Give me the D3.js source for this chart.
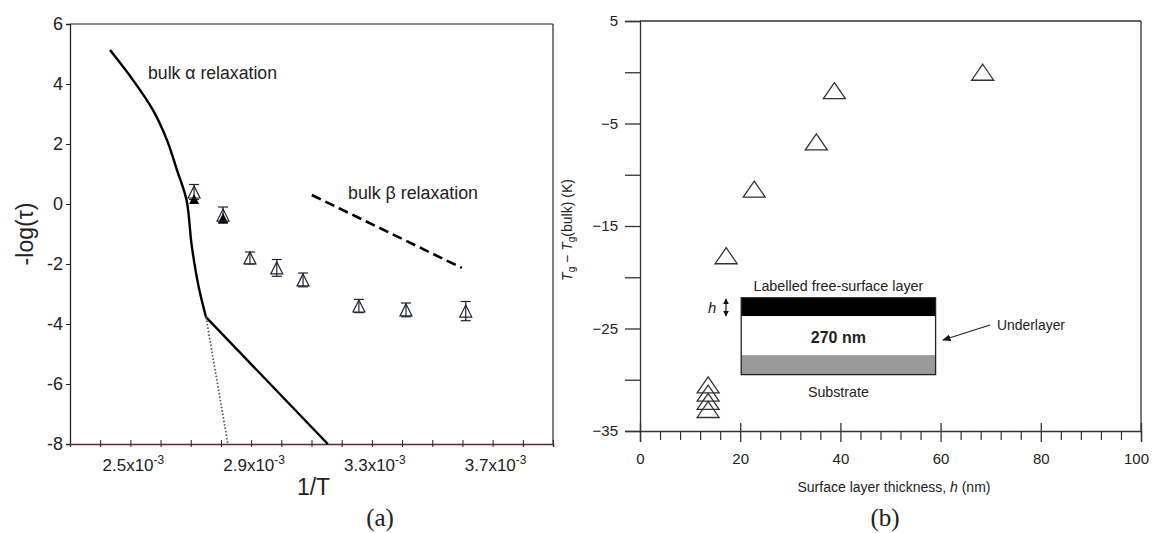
<!DOCTYPE html>
<html><head><meta charset="utf-8">
<script src="https://cdn.jsdelivr.net/npm/d3@7/dist/d3.min.js"></script>
<style>
body{margin:0;background:#fff;}
text{font-family:"Liberation Sans",Arial,sans-serif;fill:#222;}
</style></head>
<body>
<svg id="c" width="1152" height="533"></svg>
<script>
// ---------- Panel (a) data ----------
const xTicksA = [2.4,2.5,2.6,2.7,2.8,2.9,3.0,3.1,3.2,3.3,3.4,3.5,3.6,3.7,3.8,3.9]; // ×10^-3
const xLabelsA = [2.5,2.9,3.3,3.7];
const yTicksA = [6,4,2,0,-2,-4,-6,-8];
const invT = [2.711,2.807,2.896,2.985,3.072,3.257,3.413,3.611];
const logTauOpen = [0.4,-0.37,-1.8,-2.13,-2.53,-3.4,-3.53,-3.57];
const logTauErr = [0.25,0.27,0.2,0.28,0.23,0.22,0.23,0.32];
const invTFilled = [2.711,2.807];
const logTauFilled = [0.17,-0.47];
const alphaX = [2.4325,2.5087,2.5749,2.6213,2.6544,2.686,2.703,2.725,2.7505];
const alphaY = [5.13,4.13,3.13,2.13,1.13,0.13,-1.37,-2.70,-3.77];
const lowX = [2.7505,3.154];
const lowY = [-3.77,-8];
const dotX = [2.7505,2.823];
const dotY = [-3.77,-8];
const betaX = [3.101,3.598];
const betaY = [0.3,-2.13];

// ---------- Panel (b) data ----------
const thickness = [68.4,38.8,35.2,22.8,17.2,13.6,13.6,13.6,13.6];
const dTg = [0.0,-1.8,-6.8,-11.4,-17.9,-30.5,-31.3,-32.1,-32.9];
const xMajorB = [0,20,40,60,80,100];
const yTicksB = [5,0,-5,-10,-15,-20,-25,-30,-35];
const yLabelsB = [5,-5,-15,-25,-35];
// inset layers (data units of panel b)
const insetX = [20.2,59];
const insetLayerTop = [-22.0,-23.8,-27.6];
const insetLayerBottom = [-23.8,-27.6,-29.5];
const insetLayerFill = ["#000","#fff","#9a9a9a"];

const svg = d3.select("#c");
function fitW(sel,w){ sel.attr("textLength",w).attr("lengthAdjust","spacingAndGlyphs"); return sel; }

// ================= Panel (a) =================
const xA = d3.scaleLinear().domain([2.3,3.9]).range([70,553]);
const yA = d3.scaleLinear().domain([-8,6]).range([444,24]);
const axisColA = "#2a2222";

svg.append("line").attr("x1",xA(2.3)).attr("x2",xA(3.9)).attr("y1",yA(6)).attr("y2",yA(6)).attr("stroke",axisColA).attr("stroke-width",1.2);
svg.append("line").attr("x1",xA(3.9)).attr("x2",xA(3.9)).attr("y1",yA(6)).attr("y2",yA(-8)).attr("stroke",axisColA).attr("stroke-width",1.2);

const gyA = svg.append("g").attr("transform",`translate(${xA(2.3)},0)`)
  .call(d3.axisLeft(yA).tickValues(yTicksA).tickSize(4).tickPadding(3).tickFormat(d=>String(d)));
gyA.select(".domain").attr("stroke",axisColA).attr("stroke-width",1.3);
gyA.selectAll(".tick line").attr("stroke",axisColA);
gyA.selectAll(".tick text").attr("font-size",18).attr("fill","#222")
  .style("font-family",'"Liberation Sans",Arial,sans-serif');

const gxA = svg.append("g").attr("transform",`translate(0,${yA(-8)})`)
  .call(d3.axisBottom(xA).tickValues(xTicksA).tickSize(3).tickFormat(""));
gxA.select(".domain").attr("stroke","#5a2e28").attr("stroke-width",1.3);
gxA.selectAll(".tick line").attr("y1",-4).attr("y2",3).attr("stroke",axisColA);
svg.selectAll("text.xla").data(xLabelsA).join("text").attr("class","xla")
  .attr("x",d=>xA(d)+3).attr("y",471).attr("text-anchor","middle").attr("font-size",17)
  .each(function(d){
    const t=d3.select(this);
    t.append("tspan").text(d.toFixed(1)+"x10");
    t.append("tspan").attr("dy",-7).attr("font-size",12).text("-3");
  });

svg.append("text").attr("x",xA(3.1)+2).attr("y",495).attr("text-anchor","middle").attr("font-size",23).text("1/T");
svg.append("text").attr("transform",`translate(33,${yA(-1)}) rotate(-90)`).attr("text-anchor","middle").attr("font-size",23).text("-log(τ)");

// curves
const mk = d3.line().x(d=>xA(d[0])).y(d=>yA(d[1]));
svg.append("path").datum(d3.zip(alphaX,alphaY)).attr("d",d3.line().x(d=>xA(d[0])).y(d=>yA(d[1])).curve(d3.curveCatmullRom.alpha(0.5)))
  .attr("fill","none").attr("stroke","#000").attr("stroke-width",2.4);
svg.append("path").datum(d3.zip(lowX,lowY)).attr("d",mk)
  .attr("fill","none").attr("stroke","#000").attr("stroke-width",2.4);
svg.append("path").datum(d3.zip(dotX,dotY)).attr("d",mk)
  .attr("fill","none").attr("stroke","#4a5060").attr("stroke-width",1.7).attr("stroke-dasharray","1.5,2");
svg.append("path").datum(d3.zip(betaX,betaY)).attr("d",mk)
  .attr("fill","none").attr("stroke","#000").attr("stroke-width",2.6).attr("stroke-dasharray","10,5");

fitW(svg.append("text").attr("x",148).attr("y",79).attr("font-size",18).text("bulk α relaxation"),129);
fitW(svg.append("text").attr("x",348).attr("y",199).attr("font-size",18).text("bulk β relaxation"),130);

const ptsA = invT.map((x,i)=>({x,y:logTauOpen[i],e:logTauErr[i]}));
const gp = svg.append("g").attr("stroke","#1e2430").attr("fill","none").attr("stroke-width",1.2);
ptsA.forEach(p=>{
  const cx=xA(p.x), y1=yA(p.y+p.e), y2=yA(p.y-p.e);
  gp.append("line").attr("x1",cx).attr("x2",cx).attr("y1",y1).attr("y2",y2);
  gp.append("line").attr("x1",cx-5).attr("x2",cx+5).attr("y1",y1).attr("y2",y1);
  gp.append("line").attr("x1",cx-5).attr("x2",cx+5).attr("y1",y2).attr("y2",y2);
});
const triA = (w,h)=>`M0,${-h/2}L${w/2},${h/2}L${-w/2},${h/2}Z`;
svg.selectAll("path.fa").data(d3.zip(invTFilled,logTauFilled)).join("path").attr("class","fa")
  .attr("transform",d=>`translate(${xA(d[0])},${yA(d[1])})`).attr("d",triA(10,10)).attr("fill","#000");
svg.selectAll("path.oa").data(ptsA).join("path").attr("class","oa")
  .attr("transform",d=>`translate(${xA(d.x)},${yA(d.y)})`).attr("d",triA(12,12))
  .attr("fill","none").attr("stroke","#1e2430").attr("stroke-width",1.2);

svg.append("text").attr("x",380).attr("y",526).attr("text-anchor","middle").attr("font-size",25)
  .style("font-family",'"Liberation Serif","Times New Roman",serif').text("(a)");

// ================= Panel (b) =================
const xB = d3.scaleLinear().domain([0,100]).range([640,1141]);
const yB = d3.scaleLinear().domain([-35,5]).range([431,21]);
const colB = "#333";

svg.append("line").attr("x1",xB(0)).attr("x2",xB(100)).attr("y1",yB(5)).attr("y2",yB(5)).attr("stroke",colB).attr("stroke-width",1.3);
svg.append("line").attr("x1",xB(100)).attr("x2",xB(100)).attr("y1",yB(5)).attr("y2",yB(-35)).attr("stroke",colB).attr("stroke-width",1.3);

const gyB = svg.append("g").attr("transform",`translate(${xB(0)},0)`)
  .call(d3.axisLeft(yB).tickValues(yTicksB).tickSize(15).tickPadding(7)
    .tickFormat(d=>yLabelsB.includes(d)?d3.format("")(d):""));
gyB.select(".domain").attr("stroke",colB).attr("stroke-width",1.3);
gyB.selectAll(".tick line").attr("stroke",colB).attr("stroke-width",1.3);
gyB.selectAll(".tick text").attr("font-size",15).attr("fill","#222")
  .style("font-family",'"Liberation Sans",Arial,sans-serif');

const gxB = svg.append("g").attr("transform",`translate(0,${yB(-35)})`)
  .call(d3.axisBottom(xB).tickValues(xMajorB).tickSize(11).tickPadding(11));
gxB.select(".domain").attr("stroke",colB).attr("stroke-width",1.3);
gxB.selectAll(".tick line").attr("y1",-8).attr("stroke",colB).attr("stroke-width",1.3);
gxB.selectAll(".tick text").attr("font-size",15).attr("fill","#222")
  .style("font-family",'"Liberation Sans",Arial,sans-serif')
  .attr("x",d=>d===100?-5:0);
const gxBm = svg.append("g").attr("transform",`translate(0,${yB(-35)})`)
  .call(d3.axisBottom(xB).tickValues(d3.range(0,101,4).filter(v=>v%20!==0)).tickSize(9).tickFormat(""));
gxBm.select(".domain").remove();
gxBm.selectAll(".tick line").attr("stroke",colB).attr("stroke-width",1.2);

const xt = svg.append("text").attr("x",894).attr("y",492).attr("text-anchor","middle").attr("font-size",14);
xt.append("tspan").text("Surface layer thickness, ");
xt.append("tspan").attr("font-style","italic").text("h");
xt.append("tspan").text(" (nm)");
const yt = svg.append("text").attr("transform",`translate(572,${yB(-15)+4}) rotate(-90)`).attr("text-anchor","middle").attr("font-size",14);
yt.append("tspan").attr("font-style","italic").text("T");
yt.append("tspan").attr("dy",3).attr("font-size",10).text("g");
yt.append("tspan").attr("dy",-3).text(" − ");
yt.append("tspan").attr("font-style","italic").text("T");
yt.append("tspan").attr("dy",3).attr("font-size",10).text("g");
yt.append("tspan").attr("dy",-3).text("(bulk) (K)");

// inset
const insetG = svg.append("g");
insetLayerTop.forEach((t,i)=>{
  insetG.append("rect").attr("x",xB(insetX[0])).attr("y",yB(t))
    .attr("width",xB(insetX[1])-xB(insetX[0])).attr("height",yB(insetLayerBottom[i])-yB(t))
    .attr("fill",insetLayerFill[i]);
});
insetG.append("rect").attr("x",xB(insetX[0])).attr("y",yB(insetLayerTop[0]))
  .attr("width",xB(insetX[1])-xB(insetX[0])).attr("height",yB(insetLayerBottom[2])-yB(insetLayerTop[0]))
  .attr("fill","none").attr("stroke","#222").attr("stroke-width",1.3);
const midX = (xB(insetX[0])+xB(insetX[1]))/2;
fitW(svg.append("text").attr("x",midX).attr("y",291).attr("text-anchor","middle").attr("font-size",15).text("Labelled free-surface layer"),170);
svg.append("text").attr("x",midX).attr("y",343).attr("text-anchor","middle").attr("font-size",16).attr("font-weight","bold").text("270 nm");
fitW(svg.append("text").attr("x",midX).attr("y",397).attr("text-anchor","middle").attr("font-size",15).text("Substrate"),61);
fitW(svg.append("text").attr("x",997).attr("y",330).attr("font-size",15).text("Underlayer"),68);
svg.append("text").attr("x",708).attr("y",313).attr("font-size",15).attr("font-style","italic").text("h");

const defs = svg.append("defs");
defs.append("marker").attr("id","ah").attr("viewBox","0 0 10 10").attr("refX",9).attr("refY",5)
  .attr("markerWidth",7).attr("markerHeight",7).attr("orient","auto-start-reverse")
  .append("path").attr("d","M0,1L10,5L0,9Z").attr("fill","#111");
defs.append("marker").attr("id","ah2").attr("viewBox","0 0 10 10").attr("refX",9).attr("refY",5)
  .attr("markerWidth",5).attr("markerHeight",5).attr("orient","auto-start-reverse")
  .append("path").attr("d","M0,0L10,5L0,10Z").attr("fill","#111");
svg.append("line").attr("x1",990).attr("y1",325).attr("x2",943).attr("y2",340)
  .attr("stroke","#222").attr("stroke-width",1.2).attr("marker-end","url(#ah)");
svg.append("line").attr("x1",726).attr("y1",299).attr("x2",726).attr("y2",316)
  .attr("stroke","#111").attr("stroke-width",1.2).attr("marker-end","url(#ah2)").attr("marker-start","url(#ah2)");

const triB = "M0,-8L11,8L-11,8Z";
svg.selectAll("path.ob").data(d3.zip(thickness,dTg)).join("path").attr("class","ob")
  .attr("transform",d=>`translate(${xB(d[0])},${yB(d[1])})`).attr("d",triB)
  .attr("fill","none").attr("stroke","#333").attr("stroke-width",1.3);

svg.append("text").attr("x",885).attr("y",526).attr("text-anchor","middle").attr("font-size",25)
  .style("font-family",'"Liberation Serif","Times New Roman",serif').text("(b)");
</script>
</body></html>
